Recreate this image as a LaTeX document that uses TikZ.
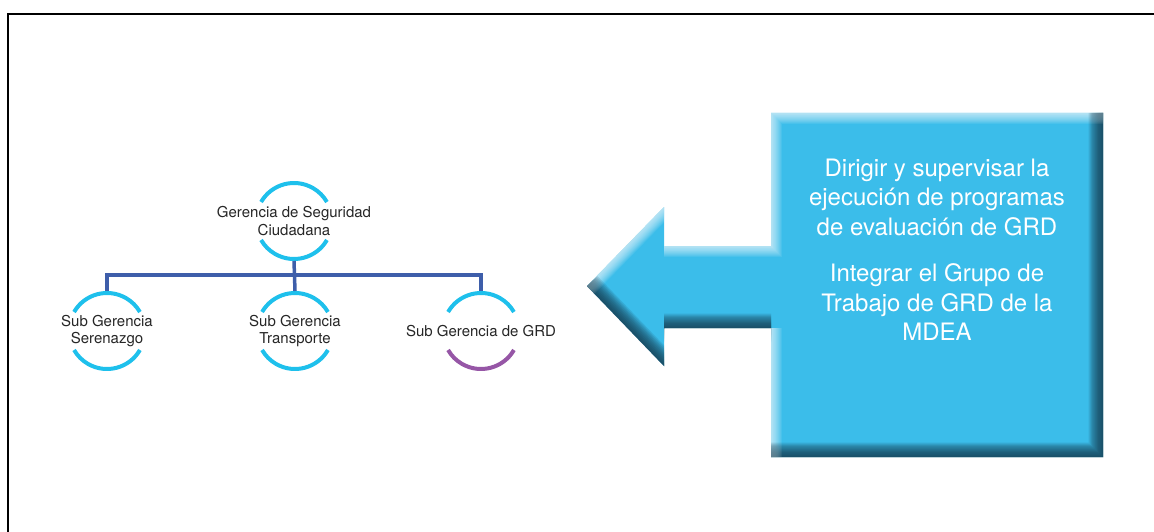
\documentclass[tikz,border=0pt]{standalone}
\usepackage{fontspec}
\setmainfont{TeX Gyre Heros}
\usepackage{xcolor}
\usepackage{tikz}
\usetikzlibrary{positioning,calc}

\definecolor{boxcyan}{RGB}{59,189,234}
\definecolor{boxdark}{RGB}{22,60,80}
\definecolor{ringcyan}{RGB}{30,192,236}
\definecolor{linkblue}{RGB}{62,94,170}
\definecolor{ringpurple}{RGB}{150,86,166}

\begin{document}
\begin{tikzpicture}[
    x=1pt, y=-1pt,
    unit/.style={inner sep=0pt, align=center, text=black!85,
        font=\fontsize{15}{17.5}\selectfont},
    ring/.style={line width=4pt, draw=ringcyan},
    link/.style={line width=3.5pt, draw=linkblue},
    task/.style={align=center, text=white, inner sep=0pt,
        font=\fontsize{24}{29.5}\selectfont}
]
\clip (0,0) rectangle (1154,532);
\fill[white] (0,0) rectangle (1154,532);

% Frame
\draw[line width=2.5pt] (8,14) rectangle (1180,560);

% Gerencia
\node[unit] (gsc) at (294,221) {Gerencia de Seguridad\\Ciudadana};

% Sub Gerencias
\node[unit] (sgs) at (107,331) {Sub Gerencia\\Serenazgo};
\node[unit] (sgt) at (295,331) {Sub Gerencia\\Transporte};
\node[unit] (sgg) at (481,331) {Sub Gerencia de GRD};

% Rings
\foreach \n in {gsc,sgs,sgt,sgg}
    \draw[ring] (\n.center) ++(210:38) arc (210:330:38);
\foreach \n in {gsc,sgs,sgt}
    \draw[ring] (\n.center) ++(30:38) arc (30:150:38);
\draw[ring, draw=ringpurple] (sgg.center) ++(30:38) arc (30:150:38);

% Links
\draw[link] ($(gsc.center)+(0,40)$) -- ($(sgt.center)+(0,-40)$);
\draw[link] ($(sgs.center)+(0,-40)$) |- ($(gsc.center)+(0,54)$) -| ($(sgg.center)+(0,-40)$);

% Arrow box
\begin{scope}
\clip (771,113) -- (1103,113) -- (1103,457) -- (771,457) -- (771,328) -- (664,328)
    -- (664,366) -- (587,286) -- (664,207) -- (664,246) -- (771,246) -- cycle;
\fill[boxcyan] (580,100) rectangle (1110,470);
\foreach \i in {1,...,12} {
    \draw[white, opacity=0.08, line width=2*\i*0.9pt]
        (771,457) -- (771,328) (664,246) -- (771,246) -- (771,113) -- (1103,113)
        (587,286) -- (664,207);
    \draw[boxdark, opacity=0.13, line width=2*\i*1.2pt]
        (1103,113) -- (1103,457) -- (771,457) (664,328) -- (771,328)
        (587,286) -- (664,366);
}
\end{scope}

% Tasks
\node[task] (tasks) at (937,250) {Dirigir y supervisar la\\ejecución de programas\\de evaluación de GRD\\[17pt]Integrar el Grupo de\\Trabajo de GRD de la\\MDEA};

\end{tikzpicture}
\end{document}
